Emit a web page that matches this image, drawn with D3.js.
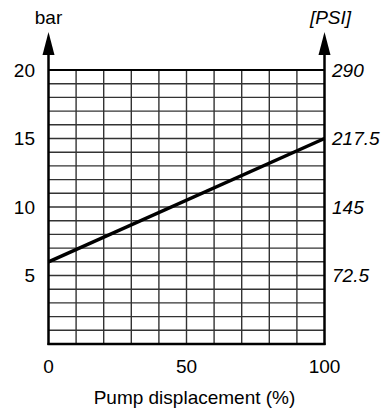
<!DOCTYPE html>
<html><head><meta charset="utf-8">
<script src="https://cdn.jsdelivr.net/npm/d3@7"></script>
<style>body{margin:0;background:#fff}text{font-family:"Liberation Sans",Arial,sans-serif;fill:#000}</style>
</head><body><svg id="c" width="387" height="410"></svg>
<script>
const xTicks = [0, 50, 100];
const leftTicks = [5, 10, 15, 20];
const rightTickLabels = ["72.5", "145", "217.5", "290"];
const lineX = [0, 100];
const lineY = [6, 15];
const xTitle = "Pump displacement (%)";
const leftUnit = "bar";
const rightUnit = "[PSI]";

const svg = d3.select("#c");
const L = 48.5, R = 324.5, T = 70, B = 344;
const x = d3.scaleLinear().domain([0, 100]).range([L, R]);
const y = d3.scaleLinear().domain([0, 20]).range([B, T]);

const g = svg.append("g");
// grid
g.selectAll(".vg").data(d3.range(10, 100, 10)).join("line")
  .attr("x1", d => x(d)).attr("x2", d => x(d)).attr("y1", T).attr("y2", B)
  .attr("stroke", "#333").attr("stroke-width", 1.4);
g.selectAll(".hg").data(d3.range(1, 20, 1)).join("line")
  .attr("x1", L).attr("x2", R).attr("y1", d => y(d)).attr("y2", d => y(d))
  .attr("stroke", "#333").attr("stroke-width", 1.4);
// frame
g.append("line").attr("x1", L).attr("x2", R).attr("y1", T).attr("y2", T).attr("stroke", "#000").attr("stroke-width", 2);
g.append("line").attr("x1", L - 1).attr("x2", R + 1).attr("y1", B).attr("y2", B).attr("stroke", "#000").attr("stroke-width", 2.5);
[L, R].forEach(xx => {
  g.append("line").attr("x1", xx).attr("x2", xx).attr("y1", 50).attr("y2", B + 1).attr("stroke", "#000").attr("stroke-width", 2.5);
  g.append("path").attr("d", `M${xx},32 L${xx - 6},55 L${xx + 6},55 Z`).attr("fill", "#000");
});
// data line
g.append("path").datum(lineX.map((d, i) => [d, lineY[i]]))
  .attr("d", d3.line().x(d => x(d[0])).y(d => y(d[1])))
  .attr("stroke", "#000").attr("stroke-width", 3.5).attr("fill", "none");

// left ticks
g.selectAll(".lt").data(leftTicks).join("text")
  .attr("x", 35).attr("y", d => y(d)).attr("dy", "0.36em").attr("text-anchor", "end")
  .attr("font-size", 19).text(d => d);
// right ticks
g.selectAll(".rt").data(leftTicks).join("text")
  .attr("x", 332).attr("y", d => y(d)).attr("dy", "0.36em").attr("text-anchor", "start")
  .attr("font-size", 19).attr("font-style", "italic").text((d, i) => rightTickLabels[i]);
// x ticks
g.selectAll(".xt").data(xTicks).join("text")
  .attr("x", d => x(d)).attr("y", 373).attr("text-anchor", "middle")
  .attr("font-size", 19).text(d => d);
g.append("text").attr("x", (L + R) / 2 + 8).attr("y", 404).attr("text-anchor", "middle").attr("font-size", 19).text(xTitle);
g.append("text").attr("x", L).attr("y", 24).attr("text-anchor", "middle").attr("font-size", 19).text(leftUnit);
g.append("text").attr("x", R + 6).attr("y", 24).attr("text-anchor", "middle").attr("font-size", 19).attr("font-style", "italic").text(rightUnit);
</script></body></html>
